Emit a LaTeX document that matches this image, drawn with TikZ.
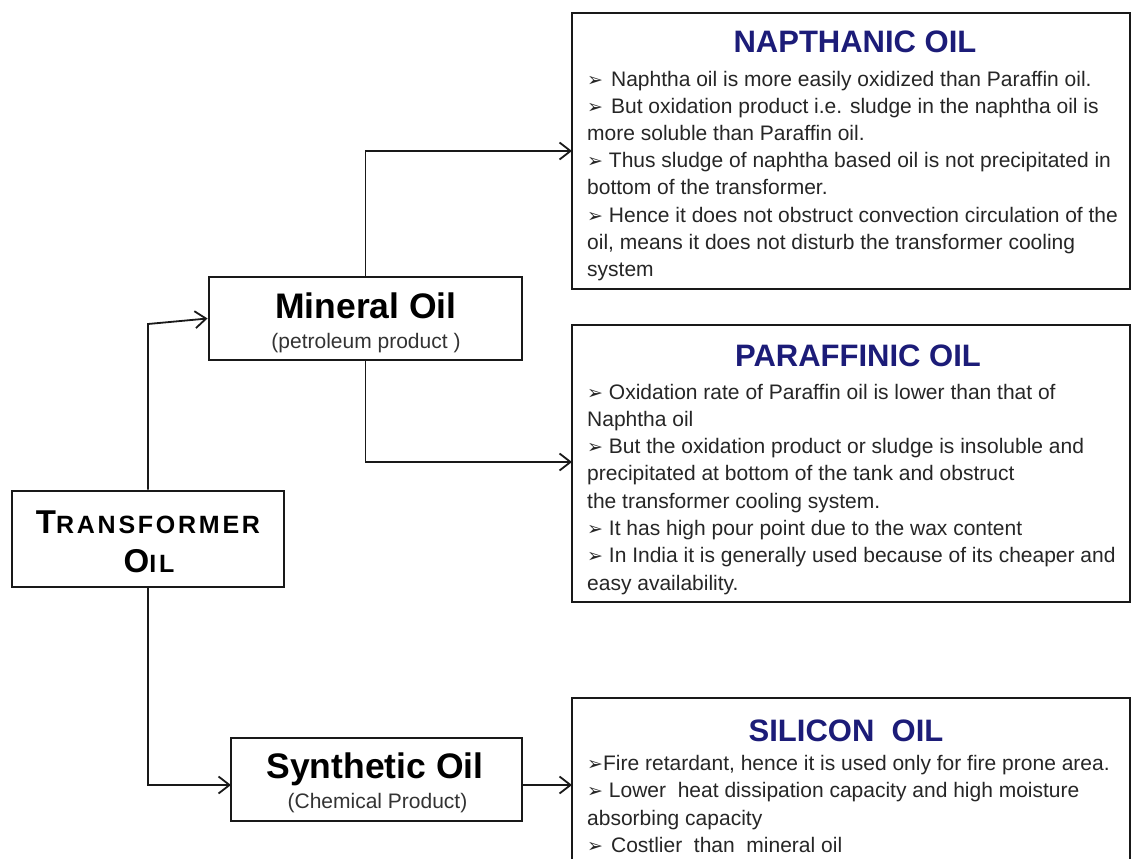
\documentclass[tikz,border=0pt]{standalone}
\usepackage{fontspec}
\setmainfont{Liberation Sans}
\newfontfamily\dv{DejaVu Sans}
\newfontfamily\tf[LetterSpace=11]{Liberation Sans}
\usetikzlibrary{arrows.meta}
\definecolor{navy}{RGB}{28,28,120}
\newcommand\bul{{\dv\fontsize{19}{19}\selectfont ➢}}
\begin{document}
\begin{tikzpicture}[x=1pt,y=-1pt,
  box/.style={draw=black!90, line width=2.9pt, inner sep=0pt, fill=white},
  arr/.style={line width=1.8pt, draw=black!90, -{Straight Barb[length=11pt,width=17pt,line width=1.8pt]}},
  body/.style={anchor=base west, inner sep=0pt, font=\fontsize{21}{21}\selectfont, text=black!85},
  ttl/.style={anchor=base, inner sep=0pt, font=\bfseries\fontsize{31}{31}\selectfont, text=navy},
  head/.style={anchor=base, inner sep=0pt, font=\bfseries\fontsize{35.5}{35.5}\selectfont},
  sub/.style={anchor=base, inner sep=0pt, font=\fontsize{21}{21}\selectfont, text=black!80}]
\useasboundingbox (0,0) rectangle (1133,859);
\fill[white] (0,0) rectangle (1133,859);

% boxes
\node[box, minimum width=272pt, minimum height=96pt] (T) at (148,539) {};
\node[box, minimum width=313pt, minimum height=83pt] (M) at (365.5,318.5) {};
\node[box, minimum width=291pt, minimum height=83pt] (S) at (376.5,779.5) {};
\node[box, minimum width=558pt, minimum height=276pt] (N) at (851,151) {};
\node[box, minimum width=558pt, minimum height=277pt] (P) at (851,463.5) {};
\node[box, minimum width=558pt, minimum height=200pt] (L) at (851,798) {};

% left texts
\node[anchor=base, inner sep=0pt] (Tt1) at (148,533) {\tf\bfseries\fontsize{33}{33}\selectfont T\fontsize{25}{25}\selectfont RANSFORMER};
\node[anchor=base, inner sep=0pt] (Tt2) at (149,572) {\tf\bfseries\fontsize{33}{33}\selectfont O\fontsize{25}{25}\selectfont IL};
\node[head] (Mt) at (366,318) {Mineral Oil};
\node[sub] (Ms) at (366,348) {(petroleum product )};
\node[head] (St) at (375,778) {Synthetic Oil};
\node[sub] (Ss) at (377.5,808) {(Chemical Product)};

% titles
\node[ttl] (Nt) at (855,53) {NAPTHANIC OIL};
\node[ttl] (Pt) at (858,366) {PARAFFINIC OIL};
\node[ttl] (Lt) at (846,741) {SILICON\ \ OIL};

% body lines
\foreach \t [count=\i from 0] in {
  {\bul\hspace{8pt}Naphtha oil is more easily oxidized than Paraffin oil.},
  {\bul\hspace{8pt}But oxidation product i.e. sludge in the naphtha oil is},
  {more soluble than Paraffin oil.},
  {\bul\ Thus sludge of naphtha based oil is not precipitated in},
  {bottom of the transformer.},
  {\bul\ Hence it does not obstruct convection circulation of the},
  {oil, means it does not disturb the transformer cooling},
  {system}}
  \node[body] (N\i) at (587,{86+27.2*\i}) {\t};

\foreach \t [count=\i from 0] in {
  {\bul\ Oxidation rate of Paraffin oil is lower than that of},
  {Naphtha oil},
  {\bul\ But the oxidation product or sludge is insoluble and},
  {precipitated at bottom of the tank and obstruct},
  {the transformer cooling system.},
  {\bul\ It has high pour point due to the wax content},
  {\bul\ In India it is generally used because of its cheaper and},
  {easy availability.}}
  \node[body] (P\i) at (587,{399+27.3*\i}) {\t};

\foreach \t [count=\i from 0] in {
  {\bul Fire retardant, hence it is used only for fire prone area.},
  {\bul\ Lower\ \ heat dissipation capacity and high moisture},
  {absorbing capacity},
  {\bul\hspace{8pt}Costlier\ \ than\ \ mineral oil}}
  \node[body] (L\i) at (587,{770+27.6*\i}) {\t};

% connectors
\coordinate (tm) at (148,324);
\draw[arr] (T.north) -- (tm) -- (M.west);
\coordinate (nin) at (572,151);
\draw[arr] (M.north) |- (nin);
\coordinate (pin) at (572,462);
\draw[arr] (M.south) |- (pin);
\coordinate (sin) at (231,785);
\draw[arr] (T.south) |- (sin);
\coordinate (lin) at (572,785);
\draw[arr] (S.east |- lin) -- (lin);
\end{tikzpicture}
\end{document}
